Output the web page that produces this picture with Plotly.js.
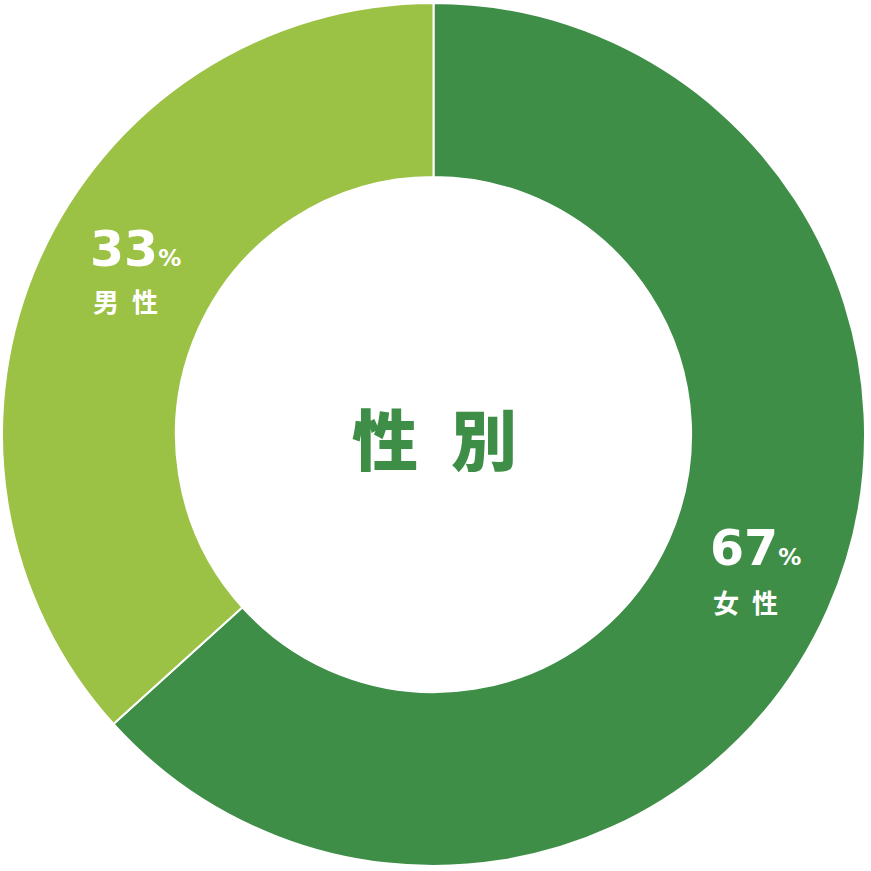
<!DOCTYPE html>
<html><head><meta charset="utf-8">
<script src="https://cdn.plot.ly/plotly-3.0.1.min.js"></script>
<style>html,body{margin:0;padding:0;background:#fff}#c{width:871px;height:871px}</style>
</head><body><div id="c"></div>
<script>
const categories = ['女\u2002性', '男\u2002性'];
const sliceValues = [63.3, 36.7];
const percentLabels = ['67', '33'];
const colors = ['#3f8e48', '#9cc245'];
const centerTitle = '性\u2002別';

const W = 871;
const px = v => v / W;
const py = v => 1 - v / W;

const numFont = {family: '"DejaVu Sans", sans-serif', size: 49, color: '#ffffff', weight: 700};
const jpFont = {family: '"Noto Sans CJK JP", sans-serif', size: 26, color: '#ffffff', weight: 700};

const labelPos = [ {x: 708, yNum: 548, yJp: 601}, {x: 88, yNum: 249, yJp: 300} ];

const annotations = [];
categories.forEach((c, i) => {
  annotations.push({xref:'paper', yref:'paper', x: px(labelPos[i].x), y: py(labelPos[i].yNum), xanchor:'left', yanchor:'middle', showarrow:false,
    text: percentLabels[i] + "<span style='font-size:23px'>%</span>", font: numFont});
  annotations.push({xref:'paper', yref:'paper', x: px(labelPos[i].x + 3), y: py(labelPos[i].yJp), xanchor:'left', yanchor:'middle', showarrow:false,
    text: c, font: jpFont});
});
annotations.push({xref:'paper', yref:'paper', x: px(434), y: py(436), xanchor:'center', yanchor:'middle', showarrow:false,
  text: centerTitle, font: {family: '"Noto Sans CJK JP", sans-serif', size: 66, color: '#3f8e48', weight: 900}});

Plotly.newPlot('c', [{
  type: 'pie',
  values: sliceValues,
  labels: categories,
  marker: {colors: colors, line: {color: '#ffffff', width: 2}},
  hole: 0.597,
  sort: false,
  direction: 'clockwise',
  rotation: 0,
  textinfo: 'none',
  hoverinfo: 'none',
  domain: {x: [px(2), px(865)], y: [py(866), py(3)]}
}], {
  width: 871, height: 871,
  margin: {l:0, r:0, t:0, b:0},
  showlegend: false,
  paper_bgcolor: '#ffffff',
  annotations: annotations
}, {staticPlot: true});
</script>
</body></html>
